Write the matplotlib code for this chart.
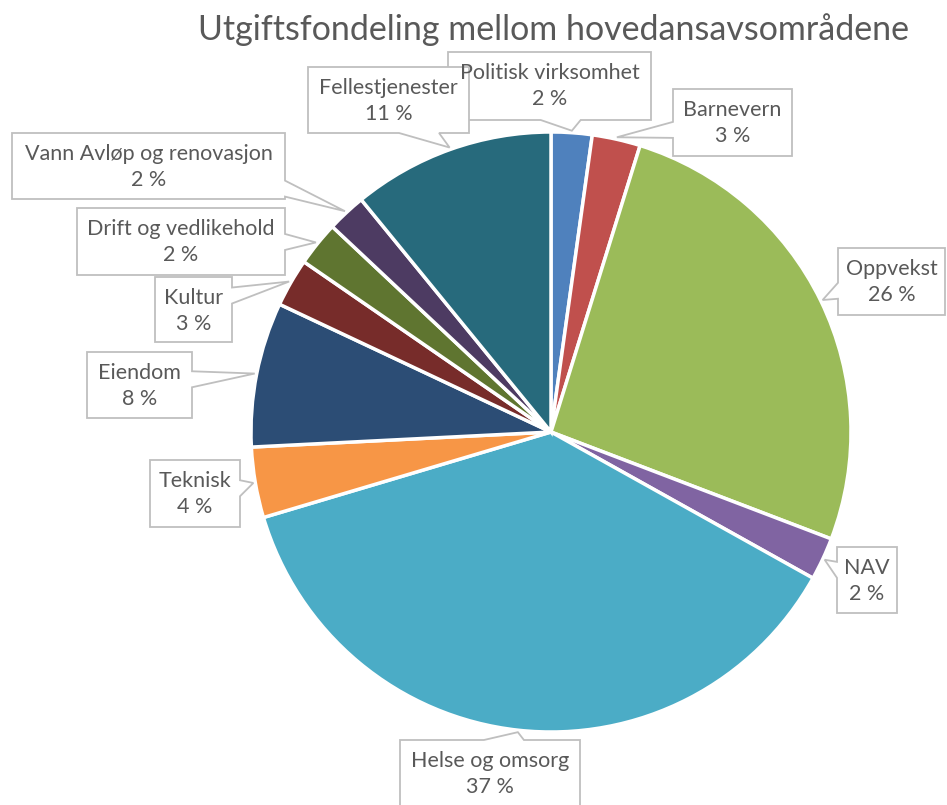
import numpy as np
import matplotlib
matplotlib.use("Agg")
import matplotlib.pyplot as plt
from matplotlib.patches import Polygon

# data (percent of total)
categories = ["Politisk virksomhet", "Barnevern", "Oppvekst", "NAV", "Helse og omsorg",
              "Teknisk", "Eiendom", "Kultur", "Drift og vedlikehold",
              "Vann Avløp og renovasjon", "Fellestjenester"]
values = [2.2, 2.6, 26.0, 2.3, 37.3, 3.8, 7.8, 2.6, 2.4, 2.1, 10.9]
colors = ["#4F81BD", "#C0504D", "#9BBB59", "#8064A2", "#4BACC6", "#F79646",
          "#2C4D75", "#772C2A", "#5F7530", "#4D3B62", "#276A7C"]

# label boxes in pixel coords (x0, y0, x1, y1), y measured from the top
boxes = [(448, 52, 651, 120), (673, 89, 792, 156), (838, 248, 945, 315),
         (837, 547, 897, 613), (400, 740, 580, 812), (150, 460, 240, 527),
         (87, 352, 192, 418), (155, 277, 232, 342), (77, 208, 285, 275),
         (12, 133, 285, 199), (308, 67, 469, 133)]

W, H = 947, 805
cx, cy, R = 551, 432, 300
TXT = "#595959"
plt.rcParams["font.family"] = ["Lato", "DejaVu Sans"]

fig = plt.figure(figsize=(W / 100, H / 100), dpi=100)
ax = fig.add_axes([0, 0, 1, 1])

ax.pie(values, colors=colors, startangle=90, counterclock=False,
       center=(cx, H - cy), radius=R,
       wedgeprops=dict(edgecolor="white", linewidth=2.5))
# pie() sets its own limits, so put ours back afterwards
ax.set_xlim(0, W)
ax.set_ylim(0, H)
ax.set_aspect("equal")
ax.axis("off")


def callout(box, tip):
    x0, y0, x1, y1 = box
    tx, ty = tip
    bx, by = (x0 + x1) / 2, (y0 + y1) / 2
    # which side the pointer leaves from
    dx = (tx - bx) / ((x1 - x0) / 2)
    dy = (ty - by) / ((y1 - y0) / 2)
    if abs(dx) >= abs(dy):
        c = np.clip((by + ty) / 2, y0 + 9, y1 - 9)
        b1, b2 = c - 8, c + 8
        if dx > 0:
            pts = [(x0, y0), (x1, y0), (x1, b1), (tx, ty), (x1, b2), (x1, y1), (x0, y1)]
        else:
            pts = [(x0, y0), (x1, y0), (x1, y1), (x0, y1), (x0, b2), (tx, ty), (x0, b1)]
    else:
        c = np.clip((bx + tx) / 2, x0 + 22, x1 - 22)
        b1, b2 = c - 20, c + 20
        if dy > 0:
            pts = [(x0, y0), (x1, y0), (x1, y1), (b2, y1), (tx, ty), (b1, y1), (x0, y1)]
        else:
            pts = [(x0, y0), (b1, y0), (tx, ty), (b2, y0), (x1, y0), (x1, y1), (x0, y1)]
    pts = [(p[0], H - p[1]) for p in pts]
    ax.add_patch(Polygon(pts, closed=True, facecolor="white", edgecolor="#BFBFBF",
                         linewidth=1.3, zorder=3))


start = 0.0
total = sum(values)
for name, v, box in zip(categories, values, boxes):
    mid = np.deg2rad((start + v / 2) / total * 360)
    start += v
    tip = (cx + (R + 2) * np.sin(mid), cy - (R + 2) * np.cos(mid))
    callout(box, tip)
    x0, y0, x1, y1 = box
    ax.text((x0 + x1) / 2, H - (y0 + 34), f"{name}\n{round(v)} %", ha="center", va="center",
            fontsize=15.5, color=TXT, linespacing=1.4, zorder=4)

ax.text(554, H - 30, "Utgiftsfondeling mellom hovedansavsområdene", ha="center", va="center",
        fontsize=24.5, color=TXT)

fig.savefig("out.png", dpi=100)
